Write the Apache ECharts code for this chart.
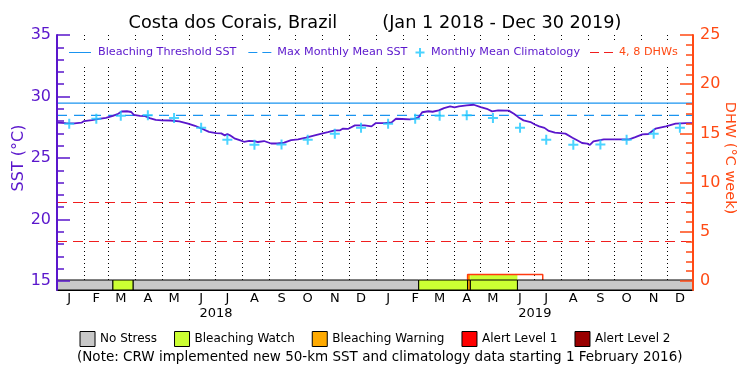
<!DOCTYPE html>
<html>
<head>
<meta charset="utf-8">
<title>Costa dos Corais, Brazil</title>
<script src="https://cdn.jsdelivr.net/npm/echarts@6/dist/echarts.min.js"></script>
<style>
  html, body { margin: 0; padding: 0; background: #fff; }
  #main { width: 750px; height: 375px; }
</style>
</head>
<body>
<div id="main"></div>
<script>
// tick labels
var monthLetters = ['J', 'F', 'M', 'A', 'M', 'J', 'J', 'A', 'S', 'O', 'N', 'D'];
var yearLabels = ['2018', '2019'];

// daily SST (day index from Jan 1 2018, deg C)
var sstDays = [0, 10, 20, 28, 31, 40, 48, 56, 64, 70, 74, 80, 85, 88, 95, 101, 106, 113, 120, 130,
  140, 150, 158, 166, 174, 182, 188, 192, 195, 198, 203, 209, 214, 220, 226, 230, 237, 245, 252, 260,
  268, 276, 285, 295, 303, 310, 318, 324, 327, 333, 341, 352, 360, 365,
  375, 383, 388, 395, 404, 410, 414, 418, 425, 430, 437, 443, 450, 455, 460, 469, 477, 485, 492, 498,
  505, 517, 523, 528, 534, 542, 547, 552, 558, 563, 570, 582, 590, 597, 601, 607, 610, 614, 626, 640,
  655, 662, 670, 677, 685, 697, 708, 720, 728];
var sstValues = [27.87, 27.84, 27.82, 27.87, 28.0, 28.08, 28.18, 28.27, 28.42, 28.6, 28.78, 28.8, 28.74, 28.5, 28.43, 28.4, 28.24, 28.1, 28.06, 28.05,
  27.98, 27.8, 27.62, 27.38, 27.12, 27.02, 27.0, 26.84, 26.95, 26.84, 26.6, 26.45, 26.32, 26.4, 26.38, 26.3, 26.38, 26.18, 26.18, 26.25,
  26.45, 26.52, 26.65, 26.84, 26.98, 27.1, 27.25, 27.25, 27.38, 27.36, 27.65, 27.65, 27.57, 27.84,
  27.84, 27.9, 28.19, 28.17, 28.14, 28.2, 28.32, 28.72, 28.8, 28.76, 28.87, 29.06, 29.19, 29.12, 29.19, 29.27, 29.33, 29.14, 29.0, 28.79,
  28.87, 28.85, 28.6, 28.32, 28.06, 27.92, 27.72, 27.57, 27.45, 27.2, 27.06, 26.98, 26.65, 26.38, 26.22, 26.17, 26.06, 26.35, 26.52, 26.52,
  26.52, 26.7, 26.92, 26.95, 27.38, 27.57, 27.79, 27.84, 27.84];

// monthly mean climatology (Jan..Dec), max monthly mean, threshold = MMM + 1
var climMonthly = [27.79, 28.19, 28.43, 28.47, 28.25, 27.45, 26.49, 26.07, 26.09, 26.49, 26.98, 27.46];
var mmm = 28.46;
var threshold = mmm + 1;

// degree heating weeks
var dhwDays = [0, 470, 470, 556, 556, 728];
var dhwValues = [0, 0, 0.65, 0.65, 0, 0];
var dhwLevels = [4, 8];

// stress level periods [startDay, endDay]
var noStressSpans = [[0, 64], [87, 414], [527, 728]];
var watchSpans = [[64, 87], [414, 470], [473, 527]];
var warningSpans = [[470, 473]];
var alert1Spans = [];
var alert2Spans = [];
// stress colour drawn up to the DHW value: [startDay, endDay, dhw, level]
var dhwFillSpans = [[470, 473, 0.62, 2], [473, 527, 0.62, 1]];

var purple = '#5a16cc';
var orange = '#ff4a14';
var levelColors = ['#c8c8c8', '#ccff33', '#ffaa00', '#ff0000', '#990000'];

// one category per day, Jan 1 2018 .. Dec 30 2019
var days = [];
var dt = new Date(Date.UTC(2018, 0, 1));
while (days.length < 729) {
  days.push(dt.toISOString().slice(0, 10));
  dt.setUTCDate(dt.getUTCDate() + 1);
}

var climData = [];
yearLabels.forEach(function (y) {
  climMonthly.forEach(function (v, m) {
    var key = y + '-' + (m < 9 ? '0' : '') + (m + 1) + '-15';
    climData.push([days.indexOf(key), v]);
  });
});

function spanRender(params, api) {
  var a = api.coord([api.value(0), 1]);
  var b = api.coord([api.value(1), 0]);
  return {
    type: 'rect',
    shape: { x: a[0], y: a[1], width: b[0] - a[0], height: b[1] - a[1] },
    style: { fill: api.visual('color'), stroke: '#000', lineWidth: 1 }
  };
}

function stressSeries(name, spans, color) {
  return {
    name: name, type: 'custom', xAxisIndex: 1, yAxisIndex: 2, z: 5,
    itemStyle: { color: color },
    encode: { x: [0, 1], y: 2 },
    data: spans.map(function (s) { return [s[0], s[1], 0]; }),
    renderItem: spanRender
  };
}

// legend icons
var solidIcon = 'path://M0,0 M35,9 M11,4 H33 V5 H11 Z';
var dashIcon = 'path://M0,0 M35,9 M11,4 H20 V5 H11 Z M25,4 H34 V5 H25 Z';
var plusIcon = 'path://M0,0 M12,9 M5,0 H7 V9 H5 Z M1.5,3.5 H10.5 V5.5 H1.5 Z';

function topLegend(names, left, itemWidth) {
  return {
    data: names, top: 41, left: left,
    itemWidth: itemWidth, itemHeight: 9, itemGap: 1,
    backgroundColor: '#fff', padding: [6, 4, 6, 0],
    selectedMode: false,
    textStyle: { color: purple, fontSize: 11.2 }
  };
}

var chart = echarts.init(document.getElementById('main'));
chart.setOption({
  animation: false,
  backgroundColor: '#fff',
  textStyle: { fontFamily: 'DejaVu Sans' },
  title: [{
    text: 'Costa dos Corais, Brazil        (Jan 1 2018 - Dec 30 2019)',
    left: 'center', top: 9,
    textStyle: { fontSize: 17.7, fontWeight: 'normal', color: '#000' }
  }, {
    text: '(Note: CRW implemented new 50-km SST and climatology data starting 1 February 2016)',
    left: 72, top: 345,
    textStyle: { fontSize: 13.5, fontWeight: 'normal', color: '#000' }
  }],
  legend: [
    topLegend([{ name: 'Bleaching Threshold SST', icon: solidIcon },
               { name: 'Max Monthly Mean SST', icon: dashIcon }], 58, 35),
    topLegend([{ name: 'Monthly Mean Climatology', icon: plusIcon }], 414, 12),
    topLegend([{ name: '4, 8 DHWs', icon: dashIcon, textStyle: { color: orange } }], 579, 35),
    {
      data: ['No Stress', 'Bleaching Watch', 'Bleaching Warning', 'Alert Level 1', 'Alert Level 2'],
      top: 326, left: 'center',
      icon: 'rect', itemWidth: 15, itemHeight: 15, itemGap: 17,
      selectedMode: false,
      itemStyle: { borderColor: '#000', borderWidth: 1 },
      textStyle: { color: '#000', fontSize: 12 }
    }
  ],
  grid: [
    { left: 57, right: 57, top: 35, height: 246, outerBoundsMode: 'none' },
    { left: 57, right: 57, top: 280, height: 10, outerBoundsMode: 'none' }
  ],
  xAxis: [{
    type: 'category', gridIndex: 0, data: days, boundaryGap: false, position: 'top',
    axisLine: { show: true, lineStyle: { color: '#000', width: 1 } },
    axisTick: { show: false }, axisLabel: { show: false },
    splitLine: {
      show: true,
      interval: function (i, v) { return i > 0 && v.slice(8) === '01'; },
      lineStyle: { color: '#000', width: 1, type: [1, 3] }
    }
  }, {
    type: 'category', gridIndex: 1, data: days, boundaryGap: false, position: 'bottom',
    axisLine: { show: true, lineStyle: { color: '#000', width: 1 } },
    axisTick: { show: false },
    axisLabel: {
      color: '#000', fontSize: 13, margin: 2,
      interval: function (i, v) { return v.slice(8) === '15'; },
      formatter: function (v) { return monthLetters[parseInt(v.slice(5, 7), 10) - 1]; }
    },
    splitLine: { show: false }
  }, {
    type: 'category', gridIndex: 1, data: days, boundaryGap: false, position: 'bottom', offset: 16,
    axisLine: { show: false }, axisTick: { show: false },
    axisLabel: {
      color: '#000', fontSize: 13, margin: 1,
      interval: function (i, v) { return v.slice(5) === '07-02'; },
      formatter: function (v) { return yearLabels[yearLabels.indexOf(v.slice(0, 4))]; }
    },
    splitLine: { show: false }
  }],
  yAxis: [{
    type: 'value', gridIndex: 0, position: 'left', min: 15, max: 35, interval: 5, z: 6,
    axisLine: { show: true, lineStyle: { color: purple, width: 2 } },
    axisTick: { show: true, inside: true, length: 13, lineStyle: { color: purple, width: 1.5 } },
    minorTick: { show: true, splitNumber: 5, length: 7, lineStyle: { color: purple, width: 1.5 } },
    axisLabel: { color: purple, fontSize: 16, margin: 6 },
    splitLine: { show: false },
    name: 'SST (°C)', nameLocation: 'middle', nameGap: 30, nameRotate: 90, nameMoveOverlap: false,
    nameTextStyle: { color: purple, fontSize: 16 }
  }, {
    type: 'value', gridIndex: 0, position: 'right', min: 0, max: 25, interval: 5, z: 6,
    axisLine: { show: true, lineStyle: { color: orange, width: 2 } },
    axisTick: { show: true, inside: true, length: 13, lineStyle: { color: orange, width: 1.5 } },
    minorTick: { show: true, splitNumber: 5, length: 7, lineStyle: { color: orange, width: 1.5 } },
    axisLabel: { color: orange, fontSize: 16, margin: 7 },
    splitLine: { show: false },
    name: 'DHW (°C week)', nameLocation: 'middle', nameGap: 29, nameRotate: -90, nameMoveOverlap: false,
    nameTextStyle: { color: orange, fontSize: 14.5 }
  }, {
    type: 'value', gridIndex: 1, position: 'left', min: 0, max: 1, z: 6,
    axisLine: { show: true, lineStyle: { color: purple, width: 2 } },
    axisTick: { show: false }, axisLabel: { show: false }, splitLine: { show: false }
  }, {
    type: 'value', gridIndex: 1, position: 'right', min: 0, max: 1, z: 6,
    axisLine: { show: true, lineStyle: { color: orange, width: 2 } },
    axisTick: { show: false }, axisLabel: { show: false }, splitLine: { show: false }
  }],
  series: [{
    name: 'Bleaching Threshold SST', type: 'line', xAxisIndex: 0, yAxisIndex: 0,
    color: '#1a94f0', symbol: 'none', silent: true,
    lineStyle: { color: '#1a94f0', width: 1.2 },
    data: [[0, threshold], [728, threshold]]
  }, {
    name: 'Max Monthly Mean SST', type: 'line', xAxisIndex: 0, yAxisIndex: 0,
    color: '#1a94f0', symbol: 'none', silent: true,
    lineStyle: { color: '#1a94f0', width: 1.2, type: [10, 7] },
    data: [[0, mmm], [728, mmm]]
  }, {
    name: '4, 8 DHWs', type: 'line', xAxisIndex: 0, yAxisIndex: 1,
    color: '#f01e1e', symbol: 'none', silent: true,
    data: [],
    markLine: {
      silent: true, symbol: 'none', label: { show: false },
      lineStyle: { color: '#f01e1e', width: 1.2, type: [10, 6] },
      data: dhwLevels.map(function (v) { return { yAxis: v }; })
    }
  }, {
    name: 'DHW fill', type: 'custom', xAxisIndex: 0, yAxisIndex: 1, z: 3,
    encode: { x: [0, 1], y: 2 },
    data: dhwFillSpans,
    renderItem: function (params, api) {
      var a = api.coord([api.value(0), api.value(2)]);
      var b = api.coord([api.value(1), 0]);
      return {
        type: 'rect',
        shape: { x: a[0], y: a[1], width: b[0] - a[0], height: b[1] - a[1] },
        style: { fill: levelColors[api.value(3)] }
      };
    }
  }, {
    name: 'DHW', type: 'line', xAxisIndex: 0, yAxisIndex: 1, z: 4,
    color: orange, symbol: 'none', silent: true,
    lineStyle: { color: '#ff3a10', width: 1.5 },
    data: dhwDays.map(function (d, i) { return [d, dhwValues[i]]; })
  }, {
    name: 'SST', type: 'line', xAxisIndex: 0, yAxisIndex: 0, z: 4,
    color: purple, symbol: 'none', silent: true,
    lineStyle: { color: purple, width: 1.8 },
    data: sstDays.map(function (d, i) { return [d, sstValues[i]]; })
  }, {
    name: 'Monthly Mean Climatology', type: 'scatter', xAxisIndex: 0, yAxisIndex: 0, z: 5,
    color: '#1ec8ff', symbol: 'path://M4,0 H6 V10 H4 Z M0,4 H10 V6 H0 Z', symbolSize: 10,
    silent: true,
    data: climData
  },
    stressSeries('No Stress', noStressSpans, levelColors[0]),
    stressSeries('Bleaching Watch', watchSpans, levelColors[1]),
    stressSeries('Bleaching Warning', warningSpans, levelColors[2]),
    stressSeries('Alert Level 1', alert1Spans, levelColors[3]),
    stressSeries('Alert Level 2', alert2Spans, levelColors[4])
  ]
});
</script>
</body>
</html>
